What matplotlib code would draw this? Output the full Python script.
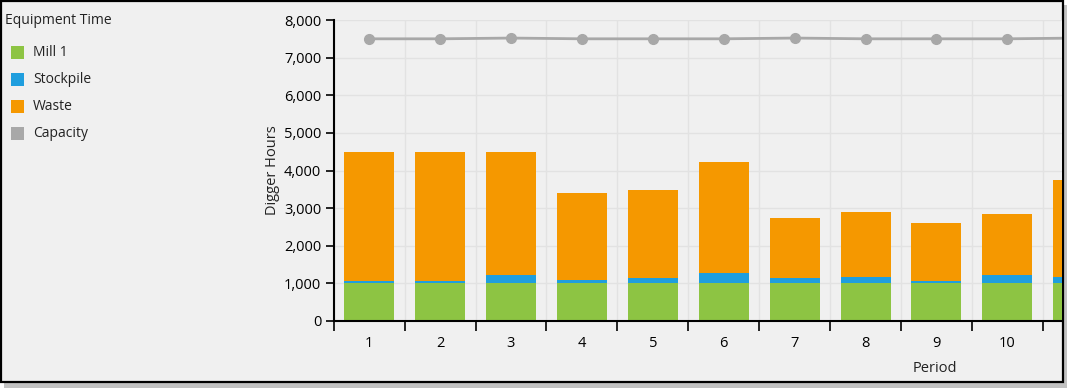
import matplotlib

matplotlib.use("Agg")
import matplotlib.pyplot as plt
from matplotlib.patches import Rectangle
from matplotlib.ticker import FixedLocator, FuncFormatter

periods = [1, 2, 3, 4, 5, 6, 7, 8, 9, 10, 11]
mill1 = [1000, 1000, 1000, 1000, 1000, 1000, 1000, 1000, 1000, 1000, 1000]
stockpile = [55, 55, 225, 80, 135, 270, 135, 170, 55, 225, 170]
waste = [3445, 3445, 3275, 2330, 2355, 2960, 1615, 1715, 1540, 1630, 2590]
capacity = [7500, 7500, 7520, 7500, 7500, 7500, 7520, 7500, 7500, 7500, 7520]

series_names = ["Mill 1", "Stockpile", "Waste", "Capacity"]
series_colors = ["#8dc443", "#1f9ede", "#f59800", "#a8a8a8"]
bg = "#f0f0f0"

plt.rcParams["font.family"] = ["Open Sans", "DejaVu Sans"]

W, H = 1068, 388
fig = plt.figure(figsize=(W / 100, H / 100), dpi=100, facecolor="white")

# window frame with drop shadow
fig.patches.append(Rectangle((4 / W, 0), 1063 / W, 383 / H, transform=fig.transFigure,
                             facecolor="#9a9a9a", edgecolor="none", alpha=0.6, zorder=-3))
fig.patches.append(Rectangle((0.5 / W, 6 / H), 1062.5 / W, 381.5 / H, transform=fig.transFigure,
                             facecolor=bg, edgecolor="black", linewidth=1.6, zorder=-2))

ax = fig.add_axes([333.7 / W, 1 - 321 / H, (1062 - 333.7) / W, 301 / H])
ax.set_facecolor(bg)

x = periods
b1 = mill1
b2 = [m + s for m, s in zip(mill1, stockpile)]
ax.bar(x, mill1, width=0.705, color=series_colors[0], zorder=2)
ax.bar(x, stockpile, width=0.705, bottom=b1, color=series_colors[1], zorder=2)
ax.bar(x, waste, width=0.705, bottom=b2, color=series_colors[2], zorder=2)
ax.plot(x, capacity, color=series_colors[3], linewidth=2, marker="o", markersize=7, zorder=3)

ax.set_xlim(0.5, 10.77)
ax.set_ylim(0, 8000)
ax.set_yticks(range(0, 8001, 1000))
ax.yaxis.set_major_formatter(FuncFormatter(lambda v, p: f"{int(v):,}"))
ax.xaxis.set_major_locator(FixedLocator([p + 0.5 for p in [0] + periods]))
ax.xaxis.set_minor_locator(FixedLocator(periods))
ax.set_xticklabels([], minor=False)
ax.set_xticklabels([str(p) for p in periods], minor=True)
ax.tick_params(axis="x", which="major", length=7, width=1.2, color="black", direction="out")
ax.tick_params(axis="x", which="minor", length=0, pad=11, labelsize=10.5)
ax.tick_params(axis="y", length=6, width=1.2, color="black", labelsize=10.5, pad=3)

ax.grid(True, which="major", color="#e2e2e2", linewidth=1, zorder=0)
ax.set_axisbelow(True)
for side in ["top", "right"]:
    ax.spines[side].set_visible(False)
for side in ["left", "bottom"]:
    ax.spines[side].set_linewidth(1.5)
    ax.spines[side].set_zorder(4)

ax.set_ylabel("Digger Hours", fontsize=10.5, color="#222222", labelpad=3)
ax.set_xlabel("Period", fontsize=10.5, color="#222222")
ax.xaxis.set_label_coords((935 - 333.7) / (1062 - 333.7), -(361 - 321) / 301)

# legend on the left
fig.text(5 / W, 1 - 20 / H, "Equipment Time", fontsize=10, va="center", ha="left", color="#222222")
for i, (name, col) in enumerate(zip(series_names, series_colors)):
    yc = 52.5 + 27 * i
    fig.patches.append(Rectangle((11 / W, 1 - (yc + 6.5) / H), 13 / W, 13 / H,
                                 transform=fig.transFigure, facecolor=col, edgecolor="none"))
    fig.text(33 / W, 1 - yc / H, name, fontsize=10, va="center", ha="left", color="#222222")

fig.savefig("out.png", dpi=100, facecolor="white")
